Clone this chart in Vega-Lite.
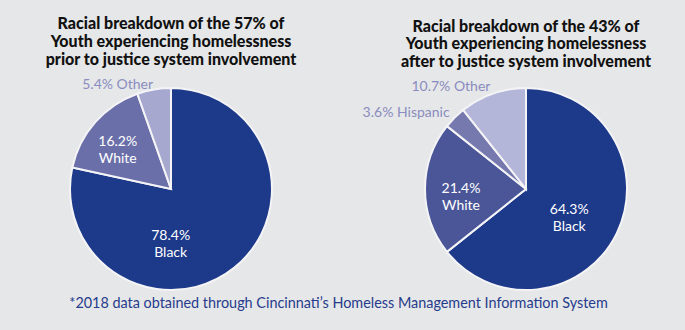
{
  "$schema": "https://vega.github.io/schema/vega-lite/v6.json",
  "background": "#e6e7e8",
  "padding": {"left": 21, "right": 9, "top": 16, "bottom": 21},
  "bounds": "flush",
  "config": {"view": {"stroke": null}, "font": "Lato"},
  "title": {"text": "*2018 data obtained through Cincinnati’s Homeless Management Information System", "orient": "bottom", "anchor": "middle", "dx": -10, "offset": 3, "font": "Lato", "fontSize": 14.4, "fontWeight": "normal", "color": "#263c8c"},
  "resolve": {"scale": {"color": "independent", "theta": "independent"}},
  "spacing": 55,
  "hconcat": [
    {
      "width": 300,
      "height": 210,
      "title": {"text": ["Racial breakdown of the 57% of", "Youth experiencing homelessness", "prior to justice system involvement"], "font": "Lato", "fontSize": 16, "fontWeight": 900, "lineHeight": 17.6, "color": "#111111", "anchor": "middle", "offset": 10},
      "data": {"values": [
        {"race": "Black", "pct": 78.4, "order": 1, "label": "78.4%\nBlack"},
        {"race": "White", "pct": 16.2, "order": 2, "label": "16.2%\nWhite"},
        {"race": "Other", "pct": 5.4, "order": 3, "label": "5.4% Other"}
      ]},
      "encoding": {
        "theta": {"field": "pct", "type": "quantitative", "stack": true},
        "order": {"field": "order", "type": "quantitative"}
      },
      "layer": [
        {"mark": {"type": "arc", "outerRadius": 101, "stroke": "#f4f4f7", "strokeWidth": 2},
         "encoding": {"color": {"field": "race", "type": "nominal", "scale": {"domain": ["Black", "White", "Other"], "range": ["#1c398a", "#6b6fa9", "#a6a8d0"]}, "legend": null}}},
        {"mark": {"type": "text", "radius": 71, "lineBreak": "\n", "fontSize": 14, "font": "Lato", "color": "white", "baseline": "middle", "lineHeight": 17},
         "encoding": {"text": {"condition": {"test": "datum.race == 'White'", "field": "label"}, "value": ""}}},
        {"mark": {"type": "text", "radius": 60, "dx": -38, "lineBreak": "\n", "fontSize": 14, "font": "Lato", "color": "white", "baseline": "middle", "lineHeight": 17},
         "encoding": {"text": {"condition": {"test": "datum.race == 'Black'", "field": "label"}, "value": ""}}},
        {"mark": {"type": "text", "radius": 106, "align": "right", "fontSize": 14, "font": "Lato", "color": "#8a8cc0", "baseline": "middle"},
         "encoding": {"text": {"condition": {"test": "datum.race == 'Other'", "field": "label"}, "value": ""}}}
      ]
    },
    {
      "width": 300,
      "height": 210,
      "title": {"text": ["Racial breakdown of the 43% of", "Youth experiencing homelessness", "after to justice system involvement"], "font": "Lato", "fontSize": 16, "fontWeight": 900, "lineHeight": 17.6, "color": "#111111", "anchor": "middle", "offset": 10},
      "data": {"values": [
        {"race": "Black", "pct": 64.3, "order": 1, "label": "64.3%\nBlack"},
        {"race": "White", "pct": 21.4, "order": 2, "label": "21.4%\nWhite"},
        {"race": "Hispanic", "pct": 3.6, "order": 3, "label": "3.6% Hispanic"},
        {"race": "Other", "pct": 10.7, "order": 4, "label": "10.7% Other"}
      ]},
      "encoding": {
        "theta": {"field": "pct", "type": "quantitative", "stack": true},
        "order": {"field": "order", "type": "quantitative"}
      },
      "layer": [
        {"mark": {"type": "arc", "outerRadius": 101, "stroke": "#f4f4f7", "strokeWidth": 2},
         "encoding": {"color": {"field": "race", "type": "nominal", "scale": {"domain": ["Black", "White", "Hispanic", "Other"], "range": ["#1c398a", "#4b5699", "#7679ae", "#b3b5d9"]}, "legend": null}}},
        {"mark": {"type": "text", "radius": 48, "lineBreak": "\n", "fontSize": 14, "font": "Lato", "color": "white", "baseline": "middle", "lineHeight": 17},
         "encoding": {"text": {"condition": {"test": "datum.race == 'Black'", "field": "label"}, "value": ""}}},
        {"mark": {"type": "text", "radius": 65, "lineBreak": "\n", "fontSize": 14, "font": "Lato", "color": "white", "baseline": "middle", "lineHeight": 17},
         "encoding": {"text": {"condition": {"test": "datum.race == 'White'", "field": "label"}, "value": ""}}},
        {"mark": {"type": "text", "radius": 108, "align": "right", "fontSize": 14, "font": "Lato", "color": "#8a8cc0", "baseline": "middle"},
         "encoding": {"text": {"condition": {"test": "datum.race == 'Hispanic' || datum.race == 'Other'", "field": "label"}, "value": ""}}}
      ]
    }
  ]
}
